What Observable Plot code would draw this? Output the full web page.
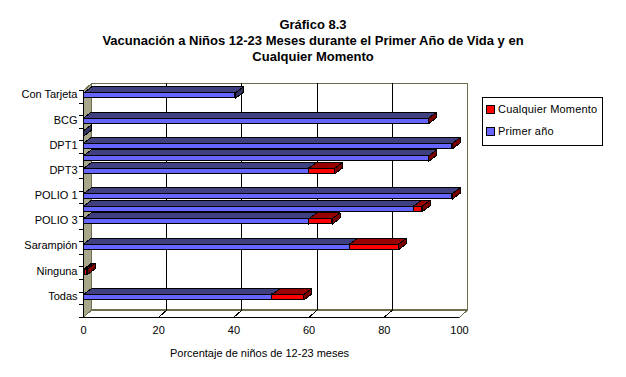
<!DOCTYPE html>
<html><head><meta charset="utf-8">
<script src="https://cdn.jsdelivr.net/npm/d3@7"></script>
<script src="https://cdn.jsdelivr.net/npm/@observablehq/plot@0.6"></script>
<style>
body{margin:0;background:#fff;font-family:"Liberation Sans",Arial,sans-serif;color:#000}
#wrap{position:relative;width:626px;height:377px;overflow:hidden;background:#fff}
#title{height:70px;box-sizing:border-box;padding-top:17px;text-align:center;font-weight:bold;font-size:13px;line-height:16px}
#legend{position:absolute;left:482px;top:97px;width:119px;height:47px;border:1px solid #000;background:#fff;font-size:11px}
#legend .it{position:absolute;left:3px;height:12px;line-height:12px;white-space:nowrap;letter-spacing:0.2px}
#legend .sw{display:inline-block;width:7px;height:7px;border:1px solid #000;margin-right:3px;vertical-align:-1px}
</style></head><body>
<div id="wrap">
  <div id="title"><div>Gráfico 8.3</div><div>Vacunación a Niños 12-23 Meses durante el Primer Año de Vida y en</div><div>Cualquier Momento</div></div>
  <div id="chart"></div>
  <div id="legend">
    <div class="it" style="top:5px"><span class="sw" style="background:#ff0000"></span>Cualquier Momento</div>
    <div class="it" style="top:27px"><span class="sw" style="background:#6666ff"></span>Primer año</div>
  </div>
</div>
<script>
// slots of the category axis (only every second label is printed, as in the original)
const categories = ["Con Tarjeta", "", "BCG", " ", "DPT1", "DPT2", "DPT3", "  ", "POLIO 1", "POLIO 2", "POLIO 3", "   ", "Sarampión", "    ", "Ninguna", "     ", "Todas", "      "];
const primerAno = [40.4, null, 91.8, 0, 98.1, 91.8, 59.9, null, 98.1, 87.8, 59.9, null, 70.8, null, 0.5, null, 50.2, null];
const cualquierExtra = [null, null, 0, null, 0, 0, 6.9, null, 0, 2.3, 6.2, null, 13.1, null, 0.5, null, 8.4, null];
const xTicks = [0, 20, 40, 60, 80, 100];
const seriesNames = ["Primer año", "Cualquier Momento"];

// layout
const W = 626, H = 307;
const mL = 83, mR = 167, mT = 20, mB = 60.3;
const nSlots = categories.length;
const pxX = (W - mL - mR) / 100;
const pxY = (H - mT - mB) / nSlots;
const ux = p => p / pxX, uy = p => p / pxY;
const wallDX = ux(8), wallDY = uy(7);
const barDX = ux(8), barDY = uy(6);
const f0 = uy(2.4), f1 = uy(7.9);

const colors = {
  blue: {front: "#6666ff", top: "#404080", end: "#33335f"},
  red: {front: "#ff0000", top: "#990000", end: "#7a0000"}
};

// segments
const segs = [];
categories.forEach((c, i) => {
  const p = primerAno[i];
  if (p == null) return;
  segs.push({i, s: "blue", x1: 0, x2: p});
  const e = cualquierExtra[i];
  if (e != null) segs.push({i, s: "red", x1: p, x2: p + e});
});
function tops(list) {
  const out = [];
  list.forEach((d, k) => {
    const y = d.i + f0;
    [[d.x1, y], [d.x2, y], [d.x2 + barDX, y - barDY], [d.x1 + barDX, y - barDY]]
      .forEach(([x, yy]) => out.push({id: k, x, y: yy}));
  });
  return out;
}
function ends(list) {
  const out = [];
  list.forEach((d, k) => {
    const ya = d.i + f0, yb = d.i + f1;
    [[d.x2, ya], [d.x2, yb], [d.x2 + barDX, yb - barDY], [d.x2 + barDX, ya - barDY]]
      .forEach(([x, yy]) => out.push({id: k, x, y: yy}));
  });
  return out;
}
const blue = segs.filter(d => d.s === "blue"), red = segs.filter(d => d.s === "red");

const leftWall = [[0, 0], [wallDX, -wallDY], [wallDX, nSlots - wallDY], [0, nSlots]].map(([x, y]) => ({id: 0, x, y}));
const floor = [[0, nSlots], [wallDX, nSlots - wallDY], [100 + wallDX, nSlots - wallDY], [100, nSlots]].map(([x, y]) => ({id: 0, x, y}));
const olive = "#6e6e4e";

const barMarks = (list, col) => [
  Plot.rect(list, {x1: "x1", x2: "x2", y1: d => d.i + f0, y2: d => d.i + f1, fill: col.front, stroke: "#000", strokeWidth: 1}),
  Plot.line(tops(list), {x: "x", y: "y", z: "id", curve: "linear-closed", fill: col.top, stroke: "#000", strokeWidth: 1}),
  Plot.line(ends(list), {x: "x", y: "y", z: "id", curve: "linear-closed", fill: col.end, stroke: "#000", strokeWidth: 1})
];

const chart = Plot.plot({
  width: W, height: H,
  marginLeft: mL, marginRight: mR, marginTop: mT, marginBottom: mB,
  style: {fontFamily: '"Liberation Sans", Arial, sans-serif', fontSize: "11px", background: "#fff", overflow: "visible", shapeRendering: "crispEdges"},
  x: {domain: [0, 100], ticks: xTicks, tickSize: 0, tickPadding: 9, label: null},
  y: {domain: [nSlots, 0], ticks: d3.range(0, nSlots + 1), tickSize: 4, tickFormat: () => "", label: null},
  marks: [
    Plot.rect([0], {x1: wallDX, x2: 100 + wallDX, y1: -wallDY, y2: nSlots - wallDY, fill: "#fff", stroke: olive}),
    Plot.line(leftWall, {x: "x", y: "y", z: "id", curve: "linear-closed", fill: "#a8a78c", stroke: olive, strokeWidth: 1}),
    Plot.line(floor, {x: "x", y: "y", z: "id", curve: "linear-closed", fill: "#fff", stroke: olive, strokeWidth: 1}),
    Plot.ruleX(xTicks.slice(1, -1), {x: d => d + wallDX, y1: -wallDY, y2: nSlots - wallDY, stroke: "#000"}),
    Plot.link(xTicks.slice(1, -1), {x1: d => d, y1: nSlots, x2: d => d + wallDX, y2: nSlots - wallDY, stroke: "#000"}),
    Plot.ruleX([0], {y1: 0, y2: nSlots, stroke: "#000"}),
    Plot.ruleY([nSlots], {x1: 0, x2: 100, stroke: "#000"}),
    ...barMarks(blue, colors.blue),
    ...barMarks(red, colors.red),
    Plot.text(categories.map((c, i) => ({c, i})).filter(d => d.i % 2 === 0), {x: 0, y: d => d.i + 0.5, text: "c", textAnchor: "end", dx: -6, dy: -2, fontSize: 11, fill: "#000"}),
    Plot.text(["Porcentaje de niños de 12-23 meses"], {frameAnchor: "bottom", dx: -12, dy: 40, fontSize: 11, fill: "#000"})
  ]
});
document.getElementById("chart").appendChild(chart);
</script>
</body></html>
